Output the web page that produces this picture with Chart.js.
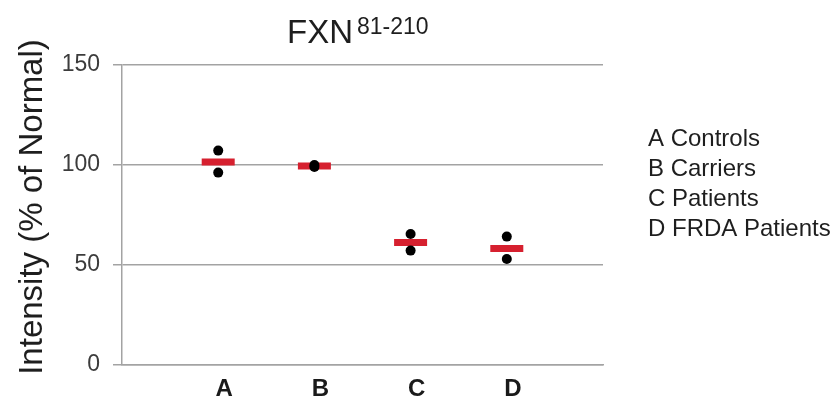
<!DOCTYPE html>
<html>
<head>
<meta charset="utf-8">
<script src="https://cdn.jsdelivr.net/npm/chart.js@4/dist/chart.umd.min.js"></script>
<style>
  html, body { margin: 0; padding: 0; background: #fff; }
  #wrap { width: 840px; height: 411px; }
</style>
</head>
<body>
<div id="wrap"><canvas id="fxnChart" width="840" height="411"></canvas></div>
<script>
// === DATA ===
const categories = ['A', 'B', 'C', 'D'];
const categoryPos = [1, 2, 3, 4];
const upperDots = [107.2, 100, 65.5, 64.2];
const lowerDots = [96.2, 99, 57.2, 53];
const means = [101.5, 99.5, 61.3, 58.3];
const yTicks = [0, 50, 100, 150];
const legendLines = ['A Controls', 'B Carriers', 'C Patients', 'D FRDA Patients'];

const dotPoints = [];
categoryPos.forEach((x, i) => {
  dotPoints.push({ x: x, y: upperDots[i] });
  dotPoints.push({ x: x, y: lowerDots[i] });
});
const meanPoints = categoryPos.map((x, i) => ({ x: x, y: means[i] }));

// title with superscript, y-axis title and text legend
const extraText = {
  id: 'extraText',
  afterDraw(chart) {
    const c = chart.ctx;
    c.save();
    c.fillStyle = '#1e1e1e';
    c.textBaseline = 'alphabetic';
    c.textAlign = 'left';
    c.font = '33px "Liberation Sans", Arial, sans-serif';
    c.fillText('FXN', 287, 43);
    const w = c.measureText('FXN').width;
    c.font = '23px "Liberation Sans", Arial, sans-serif';
    c.fillText('81-210', 287 + w + 4, 34);

    c.font = '24px "Liberation Sans", Arial, sans-serif';
    legendLines.forEach((t, i) => c.fillText(t, 648, 146 + i * 30));

    c.translate(42, 207);
    c.rotate(-Math.PI / 2);
    c.textAlign = 'center';
    c.font = '33px "Liberation Sans", Arial, sans-serif';
    c.fillText('Intensity (% of Normal)', 0, 0);
    c.restore();
  }
};

const ctx = document.getElementById('fxnChart').getContext('2d');

new Chart(ctx, {
  type: 'scatter',
  data: {
    datasets: [
      {
        label: 'Individual',
        data: dotPoints,
        pointStyle: 'circle',
        pointRadius: 5,
        pointBackgroundColor: '#000',
        pointBorderColor: '#000',
        pointBorderWidth: 0,
        order: 0
      },
      {
        label: 'Mean',
        data: meanPoints,
        pointStyle: 'line',
        pointRadius: 16.5,
        pointBorderColor: '#d6202f',
        pointBorderWidth: 7,
        order: 1
      }
    ]
  },
  options: {
    responsive: false,
    animation: false,
    layout: { padding: { left: 0, right: 237, top: 65, bottom: 0 } },
    plugins: {
      legend: { display: false },
      tooltip: { enabled: false }
    },
    scales: {
      x: {
        type: 'linear',
        min: 0,
        max: 5,
        afterBuildTicks: s => { s.ticks = categoryPos.map(v => ({ value: v })); },
        afterFit: s => { s.height = 46; },
        grid: { display: false, drawTicks: false },
        border: { display: true, color: '#a3a3a3', width: 1.5 },
        ticks: {
          padding: 10,
          labelOffset: 6,
          color: '#1a1a1a',
          font: { family: '"Liberation Sans", Arial, sans-serif', size: 24, weight: 'bold' },
          callback: v => categories[categoryPos.indexOf(v)]
        }
      },
      y: {
        min: 0,
        max: 150,
        afterBuildTicks: s => { s.ticks = yTicks.map(v => ({ value: v })); },
        afterFit: s => { s.width = 122; },
        grid: { color: '#a3a3a3', lineWidth: 1.5, tickLength: 9, drawTicks: true },
        border: { display: true, color: '#a3a3a3', width: 1.5 },
        ticks: {
          padding: 13,
          color: '#3c3c3c',
          font: { family: '"Liberation Sans", Arial, sans-serif', size: 23 }
        }
      }
    }
  },
  plugins: [extraText]
});
</script>
</body>
</html>
